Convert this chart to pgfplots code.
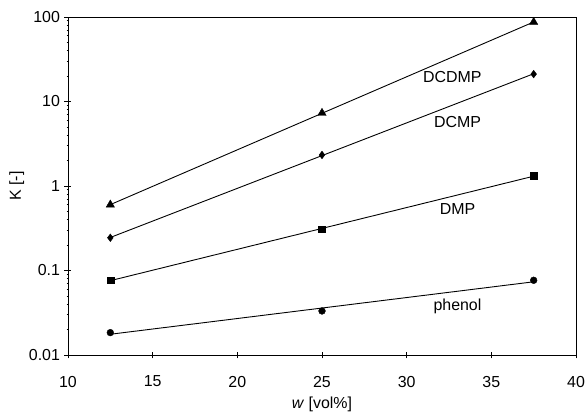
\documentclass[border=0pt]{standalone}
\usepackage{fontspec}
\setmainfont{Liberation Sans}
\usepackage{pgfplots}
\pgfplotsset{compat=1.18}

% measured points
\pgfplotstableread{
w    dcdmp  dcmp   dmp     phenol
12.5 0.60   0.244  0.0766  0.0184
25   7.3    2.33   0.308   0.0332
37.5 87     21.1   1.32    0.0766
}\points

% exponential trend lines (end points of the fit)
\pgfplotstableread{
w    dcdmp  dcmp   dmp     phenol
12.5 0.602  0.246  0.0758  0.0176
37.5 87.3   21.3   1.306   0.0735
}\trend

\begin{document}
\begin{tikzpicture}
\begin{axis}[
  scale only axis,
  width=508bp, height=338bp,
  xmin=10, xmax=40,
  ymode=log, ymin=0.01, ymax=100,
  xtick={10,15,...,40},
  ytick={0.01,0.1,1,10,100},
  yticklabels={0.01,0.1,1,10,100},
  minor ytick={},
  tick pos=left,
  tick align=center,
  major tick length=7bp,
  axis line style={line width=0.8bp},
  every tick/.style={black, line width=0.8bp},
  tick label style={font=\fontsize{16}{18}\selectfont},
  xticklabel style={yshift=-14bp},
  yticklabel style={xshift=-1bp},
  /pgf/number format/assume math mode=true,
  xlabel={\fontsize{16}{18}\selectfont\textit{w} [vol\%]},
  ylabel={\fontsize{16}{18}\selectfont K [-]},
  xlabel style={yshift=-3bp},
  ylabel style={yshift=-2bp},
  clip=false,
]
\addplot[black, line width=0.9bp] table[x=w, y=dcdmp] {\trend};
\addplot[black, line width=0.9bp] table[x=w, y=dcmp] {\trend};
\addplot[black, line width=0.9bp] table[x=w, y=dmp] {\trend};
\addplot[black, line width=0.9bp] table[x=w, y=phenol] {\trend};

\addplot[only marks, mark=triangle*, mark size=4.8bp, black] table[x=w, y=dcdmp] {\points};
\addplot[only marks, mark=diamond*, mark size=3.8bp, black] table[x=w, y=dcmp] {\points};
\addplot[only marks, mark=square*, mark size=3.4bp, black] table[x=w, y=dmp] {\points};
\addplot[only marks, mark=*, mark size=3.4bp, black] table[x=w, y=phenol] {\points};

\node[font=\fontsize{16}{18}\selectfont] at (axis cs:32.7,19.5) {DCDMP};
\node[font=\fontsize{16}{18}\selectfont] at (axis cs:33.0,5.7) {DCMP};
\node[font=\fontsize{16}{18}\selectfont] at (axis cs:33.0,0.535) {DMP};
\node[font=\fontsize{16}{18}\selectfont] at (axis cs:33.0,0.038) {phenol};
\end{axis}
\pgfresetboundingbox
\path ([shift={(-68bp,-58bp)}]current axis.south west) rectangle ([shift={(11bp,17bp)}]current axis.north east);
\end{tikzpicture}
\end{document}
